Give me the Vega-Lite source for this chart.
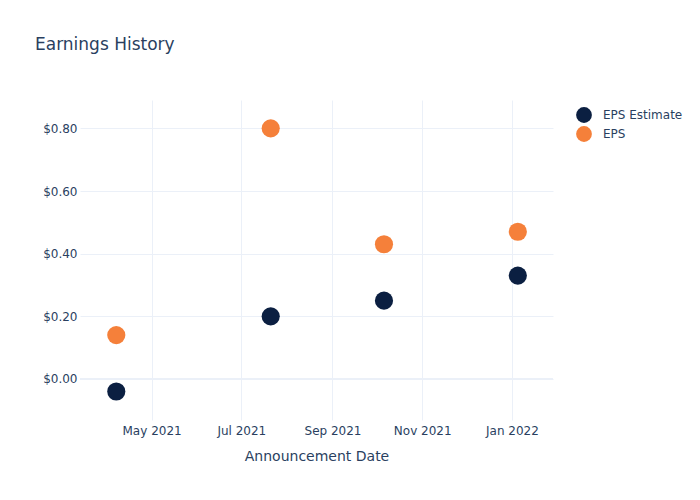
{
  "$schema": "https://vega.github.io/schema/vega-lite/v6.json",
  "width": 473,
  "height": 320,
  "autosize": {"type": "none"},
  "padding": {"left": 80, "top": 100, "right": 147, "bottom": 80},
  "background": "white",
  "config": {
    "font": "DejaVu Sans",
    "view": {"stroke": null},
    "axis": {"labelColor": "#2a3f5f", "titleColor": "#2a3f5f", "labelFont": "DejaVu Sans", "titleFont": "DejaVu Sans", "gridColor": "#EBF0F8", "gridWidth": 1, "domain": false, "ticks": false}
  },
  "title": {
    "text": "Earnings History",
    "anchor": "start",
    "frame": "group",
    "fontSize": 17,
    "fontWeight": "normal",
    "color": "#2a3f5f",
    "font": "DejaVu Sans",
    "dx": -45,
    "offset": 46
  },
  "data": {
    "values": [
      {"date": "2021-04-07", "series": "EPS Estimate", "value": -0.04},
      {"date": "2021-07-21", "series": "EPS Estimate", "value": 0.20},
      {"date": "2021-10-06", "series": "EPS Estimate", "value": 0.25},
      {"date": "2022-01-05", "series": "EPS Estimate", "value": 0.33},
      {"date": "2021-04-07", "series": "EPS", "value": 0.14},
      {"date": "2021-07-21", "series": "EPS", "value": 0.80},
      {"date": "2021-10-06", "series": "EPS", "value": 0.43},
      {"date": "2022-01-05", "series": "EPS", "value": 0.47}
    ]
  },
  "resolve": {"axis": {"y": "independent"}},
  "layer": [
    {
      "mark": {"type": "point", "filled": true, "opacity": 1, "size": 330},
      "encoding": {
        "x": {
          "field": "date",
          "type": "temporal",
          "title": "Announcement Date",
          "scale": {"domain": ["2021-03-13T08:00:00", "2022-01-28T22:00:00"], "nice": false},
          "axis": {"format": "%b %Y", "tickCount": {"interval": "month", "step": 2}, "labelFontSize": 12, "labelPadding": 5, "titleFontSize": 14, "titleFontWeight": "normal", "titlePadding": 13, "labelFlush": false, "grid": true}
        },
        "y": {
          "field": "value",
          "type": "quantitative",
          "title": null,
          "scale": {"domain": [-0.131, 0.8905], "nice": false},
          "axis": {"format": "$.2f", "values": [0, 0.2, 0.4, 0.6, 0.8], "labelFontSize": 12, "labelPadding": 3, "grid": true}
        },
        "color": {
          "field": "series",
          "type": "nominal",
          "sort": ["EPS Estimate", "EPS"],
          "scale": {"domain": ["EPS Estimate", "EPS"], "range": ["#0b1f41", "#f5803a"]},
          "legend": {"title": null, "orient": "none", "legendX": 495, "legendY": 6, "symbolSize": 250, "labelFontSize": 12, "labelColor": "#2a3f5f", "labelFont": "DejaVu Sans", "labelOffset": 10, "rowPadding": 2, "symbolOpacity": 1}
        },
        "order": {"field": "series", "sort": "descending"}
      }
    },
    {
      "mark": {"type": "rule", "color": "#EBF0F8", "strokeWidth": 2},
      "encoding": {"y": {"datum": 0, "type": "quantitative", "axis": null}}
    }
  ]
}
